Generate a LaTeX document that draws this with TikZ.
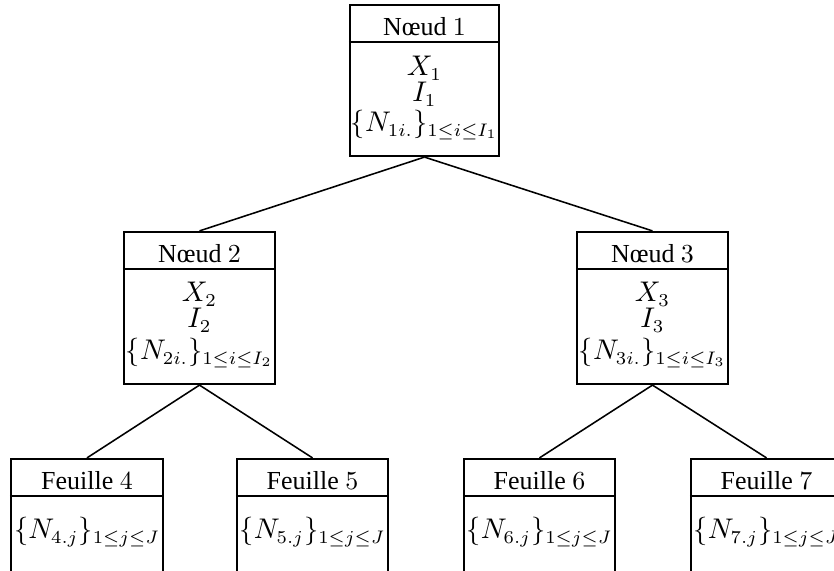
\documentclass[tikz,border=0pt]{standalone}
\usepackage{fontspec}
\setmainfont{Liberation Serif}
\usetikzlibrary{fit,calc}
\begin{document}
\begin{tikzpicture}[x=0.385pt,y=-0.385pt,
  box/.style={draw, line width=0.85pt, inner sep=0pt},
  divider/.style={line width=0.85pt},
  edge/.style={line width=0.6pt},
  txt/.style={inner sep=0pt, anchor=base, font=\fontsize{10}{12}\selectfont},
  mtxt/.style={inner sep=0pt, anchor=base, font=\fontsize{10.7}{13}\selectfont}]
\useasboundingbox (0,0) rectangle (834,571);
\clip (0,0) rectangle (834,571);

% boxes
\node[box, fit={(350,5) (499,156)}] (n1) {};
\node[box, fit={(124,232) (275,384)}] (n2) {};
\node[box, fit={(577,232) (728,384)}] (n3) {};
\node[box, fit={(11,459) (163,620)}] (f4) {};
\node[box, fit={(237,459) (388,620)}] (f5) {};
\node[box, fit={(464,459) (615,620)}] (f6) {};
\node[box, fit={(691,459) (842,620)}] (f7) {};

% dividers
\foreach \b in {n1,n2,n3,f4,f5,f6,f7}
  \draw[divider] ($(\b.north west)+(0,38)$) -- ($(\b.north east)+(0,38)$);

% node texts
\node[txt] (n1h) at (424.5,36) {Nœud $1$};
\node[mtxt] (n1x) at (424.5,76) {$X_1$};
\node[mtxt] (n1i) at (424.5,102) {$I_1$};
\node[mtxt] (n1n) at (424.5,132) {$\{N_{1i.}\}_{1\leq i\leq I_1}$};

\node[txt] (n2h) at (199.5,263) {Nœud $2$};
\node[mtxt] (n2x) at (199.5,302) {$X_2$};
\node[mtxt] (n2i) at (199.5,328) {$I_2$};
\node[mtxt] (n2n) at (199.5,360) {$\{N_{2i.}\}_{1\leq i\leq I_2}$};

\node[txt] (n3h) at (652.5,263) {Nœud $3$};
\node[mtxt] (n3x) at (652.5,302) {$X_3$};
\node[mtxt] (n3i) at (652.5,328) {$I_3$};
\node[mtxt] (n3n) at (652.5,360) {$\{N_{3i.}\}_{1\leq i\leq I_3}$};

\node[txt] (f4h) at (87,490) {Feuille $4$};
\node[mtxt] (f4n) at (87,539) {$\{N_{4.j}\}_{1\leq j\leq J}$};
\node[txt] (f5h) at (312.5,490) {Feuille $5$};
\node[mtxt] (f5n) at (312.5,539) {$\{N_{5.j}\}_{1\leq j\leq J}$};
\node[txt] (f6h) at (539.5,490) {Feuille $6$};
\node[mtxt] (f6n) at (539.5,539) {$\{N_{6.j}\}_{1\leq j\leq J}$};
\node[txt] (f7h) at (766.5,490) {Feuille $7$};
\node[mtxt] (f7n) at (766.5,539) {$\{N_{7.j}\}_{1\leq j\leq J}$};

% connectors
\draw[edge] (n1.south) -- (n2.north);
\draw[edge] (n1.south) -- (n3.north);
\draw[edge] (n2.south) -- (f4.north);
\draw[edge] (n2.south) -- (f5.north);
\draw[edge] (n3.south) -- (f6.north);
\draw[edge] (n3.south) -- (f7.north);
\end{tikzpicture}
\end{document}
